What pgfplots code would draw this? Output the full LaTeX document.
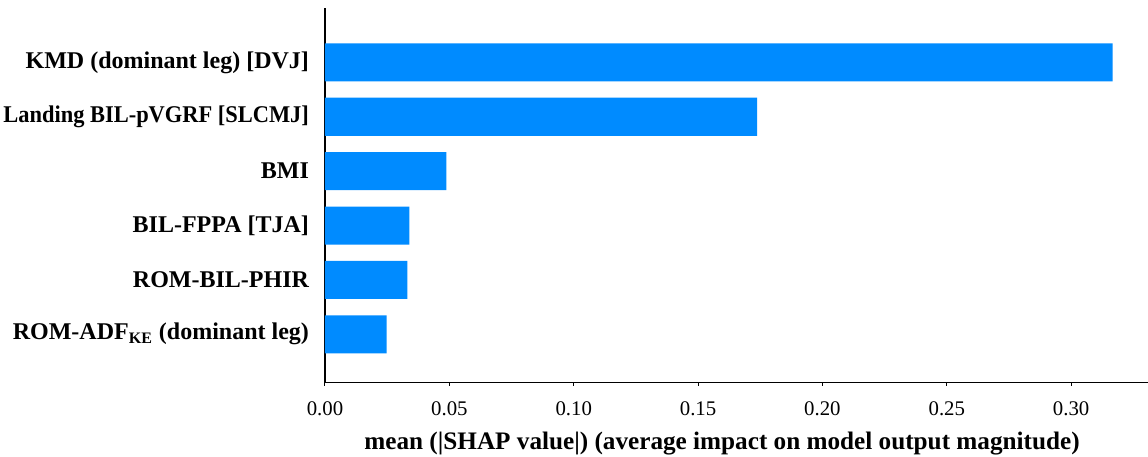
\documentclass[border=0pt]{standalone}
\usepackage{fontspec}
\setmainfont{Liberation Serif}
\usepackage{graphicx}
\usepackage{pgfplots}
\pgfplotsset{compat=1.18}
\definecolor{shapblue}{RGB}{0,139,255}
\begin{document}
\begin{tikzpicture}
\begin{axis}[
  name=ax,
  scale only axis,
  width=411.5pt, height=187.35pt,
  xbar, bar width=0.7,
  xmin=0, xmax=0.3309, ymin=-0.89, ymax=6.0,
  axis x line*=bottom, axis y line*=left,
  axis line style={line width=0.6pt, black},
  ytick={0,1,2,3,4,5},
  yticklabels={{ROM-ADF\textsubscript{KE} (dominant leg)},{ROM-BIL-PHIR},{BIL-FPPA [TJA]},{BMI},{\scalebox{0.935}[1]{Landing BIL-pVGRF [SLCMJ]}},{KMD (dominant leg) [DVJ]}},
  ytick style={draw=none},
  yticklabel style={font=\bfseries\fontsize{12}{14}\selectfont, xshift=-3pt},
  xtick={0,0.05,0.10,0.15,0.20,0.25,0.30},
  xticklabel style={font=\fontsize{10.4}{12}\selectfont, yshift=-4.5pt, /pgf/number format/.cd, fixed, fixed zerofill, precision=2, assume math mode=true},
  tick align=outside, major tick length=1.5pt,
  xtick style={line width=0.5pt, black},
  xlabel={mean (|SHAP value|) (average impact on model output magnitude)},
  xlabel style={font=\bfseries\fontsize{12.6}{14}\selectfont, at={(rel axis cs:0.4824,0)}, anchor=base, yshift=-33.15pt},
  clip=false,
]
\addplot[fill=shapblue, draw=none] coordinates {(0.0248,0) (0.0331,1) (0.0339,2) (0.0488,3) (0.1737,4) (0.3167,5)};
\end{axis}
\pgfresetboundingbox
\path[use as bounding box] ([shift={(-162.5pt,-36.65pt)}]ax.south west) rectangle ([shift={(0pt,4pt)}]ax.north east);
\end{tikzpicture}
\end{document}
